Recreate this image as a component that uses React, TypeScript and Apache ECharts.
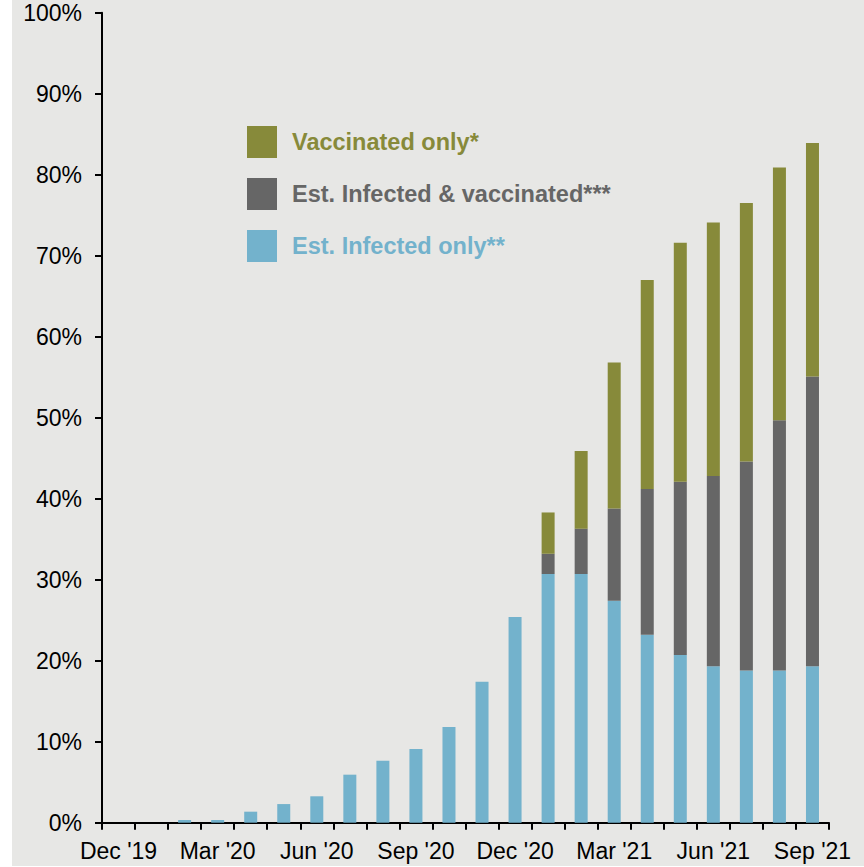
import React, { useEffect, useRef } from "react";
import * as echarts from "echarts";

const categories = [
  "Dec '19", "Jan '20", "Feb '20", "Mar '20", "Apr '20", "May '20", "Jun '20", "Jul '20",
  "Aug '20", "Sep '20", "Oct '20", "Nov '20", "Dec '20", "Jan '21", "Feb '21", "Mar '21",
  "Apr '21", "May '21", "Jun '21", "Jul '21", "Aug '21", "Sep '21",
];

// Est. Infected only (%)
const infectedOnly = [
  0, 0, 0.33, 0.33, 1.36, 2.3, 3.26, 5.93, 7.65, 9.1, 11.8, 17.4, 25.4,
  30.7, 30.7, 27.4, 23.2, 20.7, 19.3, 18.8, 18.8, 19.3,
];
// Est. Infected & vaccinated (%)
const infectedAndVaccinated = [
  0, 0, 0, 0, 0, 0, 0, 0, 0, 0, 0, 0, 0,
  2.5, 5.6, 11.4, 18.0, 21.4, 23.5, 25.8, 30.9, 35.8,
];
// Vaccinated only (%)
const vaccinatedOnly = [
  0, 0, 0, 0, 0, 0, 0, 0, 0, 0, 0, 0, 0,
  5.1, 9.6, 18.0, 25.8, 29.5, 31.3, 31.9, 31.2, 28.8,
];

const yTicks = [0, 10, 20, 30, 40, 50, 60, 70, 80, 90, 100];

const COLOR_BLUE = "#73b2cc";
const COLOR_GRAY = "#666666";
const COLOR_OLIVE = "#878a3a";
const FONT = "'Liberation Sans', Arial, sans-serif";

export default function App() {
  const ref = useRef<HTMLDivElement>(null);

  useEffect(() => {
    if (!ref.current) return;
    const chart = echarts.init(ref.current, null, { renderer: "svg" });
    const option: any = {
      animation: false,
      backgroundColor: "#ffffff",
      graphic: [
        {
          type: "rect",
          z: -10,
          silent: true,
          shape: { x: 12, y: 0, width: 852, height: 866 },
          style: { fill: "#e7e7e5" },
        },
      ],
      grid: { left: 102, right: 35, top: 12.7, bottom: 44.3, containLabel: false },
      legend: {
        orient: "vertical",
        left: 247,
        top: 126,
        padding: 0,
        itemWidth: 30,
        itemHeight: 32,
        itemGap: 20,
        icon: "rect",
        selectedMode: false,
        data: [
          { name: "Vaccinated only*", textStyle: { color: COLOR_OLIVE } },
          { name: "Est. Infected & vaccinated***", textStyle: { color: COLOR_GRAY } },
          { name: "Est. Infected only**", textStyle: { color: COLOR_BLUE } },
        ],
        textStyle: {
          fontFamily: FONT,
          fontWeight: "bold",
          fontSize: 23.5,
          padding: [0, 0, 0, 10],
        },
      },
      xAxis: {
        type: "category",
        data: categories,
        boundaryGap: true,
        axisLine: { show: true, lineStyle: { color: "#000", width: 2 } },
        axisTick: { show: true, interval: 0, length: 7, lineStyle: { color: "#000", width: 2 } },
        axisLabel: {
          interval: 2,
          color: "#000",
          fontFamily: FONT,
          fontSize: 23,
          margin: 17,
        },
        splitLine: { show: false },
      },
      yAxis: {
        type: "value",
        min: yTicks[0],
        max: yTicks[yTicks.length - 1],
        interval: 10,
        axisLine: { show: true, lineStyle: { color: "#000", width: 2 } },
        axisTick: { show: true, length: 7, lineStyle: { color: "#000", width: 2 } },
        axisLabel: {
          formatter: "{value}%",
          color: "#000",
          fontFamily: FONT,
          fontSize: 23,
          margin: 20,
        },
        splitLine: { show: false },
      },
      series: [
        {
          name: "Est. Infected only**",
          type: "bar",
          stack: "total",
          barWidth: 13,
          data: infectedOnly,
          itemStyle: { color: COLOR_BLUE },
        },
        {
          name: "Est. Infected & vaccinated***",
          type: "bar",
          stack: "total",
          barWidth: 13,
          data: infectedAndVaccinated,
          itemStyle: { color: COLOR_GRAY },
        },
        {
          name: "Vaccinated only*",
          type: "bar",
          stack: "total",
          barWidth: 13,
          data: vaccinatedOnly,
          itemStyle: { color: COLOR_OLIVE },
        },
      ],
    };
    chart.setOption(option);
    return () => chart.dispose();
  }, []);

  return (
    <div
      ref={ref}
      style={{ position: "fixed", left: 0, top: 0, width: 864, height: 867 }}
    />
  );
}
